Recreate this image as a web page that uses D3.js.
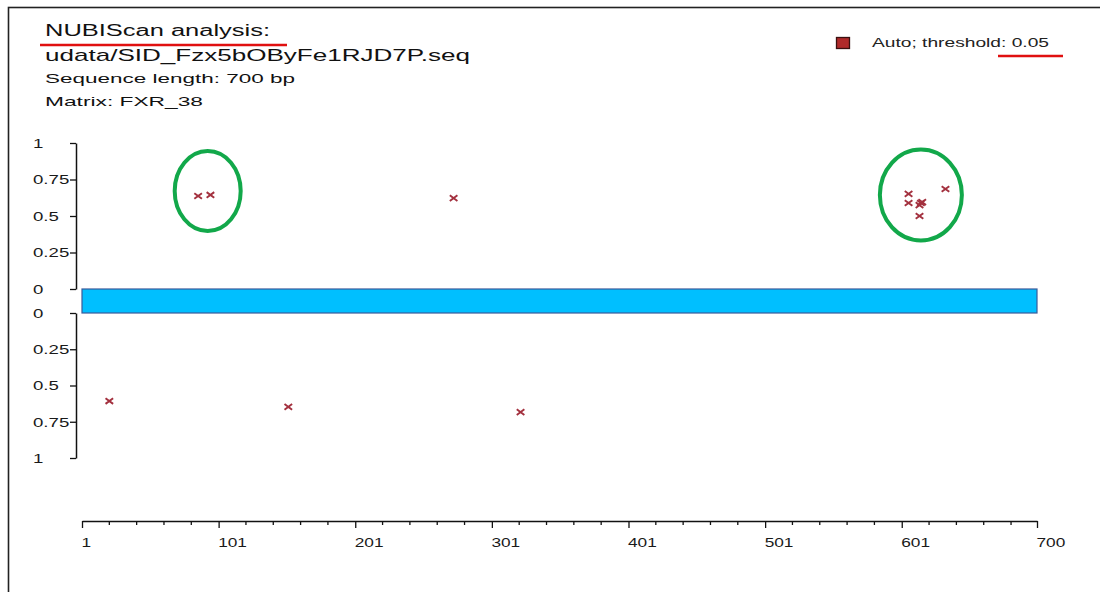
<!DOCTYPE html>
<html>
<head>
<meta charset="utf-8">
<script src="https://cdn.jsdelivr.net/npm/d3@7"></script>
<style>
  body { margin: 0; background: #fff; }
  svg { display: block; font-family: "Liberation Sans", Arial, sans-serif; }
</style>
</head>
<body>
<div id="chart"></div>
<script>
// sequence + matrix info
const seqLength = 700;
const headerLines = ["NUBIScan analysis:", "udata/SID_Fzx5bOByFe1RJD7P.seq", "Sequence length: 700 bp", "Matrix:  FXR_38"];
const legendLabel = "Auto; threshold: 0.05";

// hits on upper (+) strand
const topPos   = [86, 95, 273, 606, 606, 615, 614, 616, 614, 633];
const topScore = [0.637, 0.644, 0.623, 0.651, 0.589, 0.589, 0.575, 0.595, 0.50, 0.685];
// hits on lower (-) strand
const botPos   = [21, 152, 322];
const botScore = [0.607, 0.648, 0.683];

// axis ticks
const scoreTicks = [0, 0.25, 0.5, 0.75, 1];
const posMajor = [1, 101, 201, 301, 401, 501, 601, 700];
const posMinor = [21, 41, 61, 81, 121, 141, 161, 181, 221, 241, 261, 281, 321, 341, 361, 381,
                  421, 441, 461, 481, 521, 541, 561, 581, 621, 641, 661, 681];

// highlighted groups (green rings) in data units
const ringPos = [93, 615];
const ringScore = [0.671, 0.644];

const W = 1100, H = 592;
const svg = d3.select("#chart").append("svg").attr("width", W).attr("height", H);

// frame
svg.append("rect")
  .attr("x", 8.5).attr("y", 7.5).attr("width", 1200).attr("height", 700)
  .attr("fill", "none").attr("stroke", "#222").attr("stroke-width", 1.6);

const xScale = d3.scaleLinear().domain([1, seqLength]).range([82, 1037]);
const yTop = d3.scaleLinear().domain([0, 1]).range([289, 143]);
const yBot = d3.scaleLinear().domain([0, 1]).range([313, 458]);

const fmt = d => d === 0 ? "0" : d === 1 ? "1" : String(d);
const stretch = 1.38;

function yAxis(scale) {
  const g = svg.append("g")
    .attr("transform", "translate(76,0)")
    .call(d3.axisLeft(scale).tickValues(scoreTicks).tickFormat(fmt).tickSize(6).tickSizeOuter(0));
  g.select(".domain").attr("stroke", "#111").attr("stroke-width", 1.5);
  g.selectAll(".tick line").attr("stroke", "#111").attr("stroke-width", 1.3);
  g.selectAll(".tick text")
    .attr("text-anchor", "start")
    .attr("x", -43)
    .attr("transform", `translate(-43,0) scale(${stretch},1) translate(43,0)`)
    .attr("fill", "#1a1a1a")
    .style("font-size", "13.5px");
  return g;
}
yAxis(yTop);
yAxis(yBot);

// x axis
const xg = svg.append("g").attr("transform", "translate(0,521)");
xg.call(d3.axisBottom(xScale).tickValues(posMajor).tickFormat(d3.format("d")).tickSize(7).tickSizeOuter(0));
xg.select(".domain").attr("stroke", "#111").attr("stroke-width", 1.5);
xg.selectAll(".tick line").attr("stroke", "#111").attr("stroke-width", 1.3);
xg.selectAll(".tick text")
  .attr("text-anchor", "start")
  .attr("x", -1)
  .attr("y", 16)
  .attr("transform", `translate(-1,0) scale(${stretch - 0.1},1) translate(1,0)`)
  .attr("fill", "#1a1a1a")
  .style("font-size", "13.5px");
xg.selectAll(".minor")
  .data(posMinor)
  .join("line")
  .attr("class", "minor")
  .attr("x1", d => xScale(d)).attr("x2", d => xScale(d))
  .attr("y1", 0).attr("y2", 4)
  .attr("stroke", "#111").attr("stroke-width", 1.3);

// sequence bar
svg.append("rect")
  .attr("x", xScale(1))
  .attr("y", yTop(0))
  .attr("width", xScale(seqLength) - xScale(1))
  .attr("height", yBot(0) - yTop(0))
  .attr("fill", "#00bfff")
  .attr("stroke", "#3a5a9a")
  .attr("stroke-width", 1.2);

// hit markers
function crosses(pos, score, yScale) {
  const s = 3.8;
  const g = svg.append("g").attr("stroke", "#a3303e").attr("stroke-width", 1.9);
  pos.forEach((p, i) => {
    const cx = xScale(p), cy = yScale(score[i]);
    g.append("path").attr("d", `M${cx - s},${cy - s * 0.75}L${cx + s},${cy + s * 0.75}M${cx - s},${cy + s * 0.75}L${cx + s},${cy - s * 0.75}`);
  });
}
crosses(topPos, topScore, yTop);
crosses(botPos, botScore, yBot);

// header text (source rendering is wide, so fit to measured widths)
const headerStyle = [
  {x: 45, y: 36, size: 16, len: 225},
  {x: 45, y: 61, size: 17, len: 425},
  {x: 45, y: 83, size: 13.5, len: 250},
  {x: 45, y: 106, size: 13.5, len: 158}
];
headerLines.forEach((t, i) => {
  const st = headerStyle[i];
  svg.append("text")
    .attr("x", st.x).attr("y", st.y)
    .attr("textLength", st.len)
    .attr("lengthAdjust", "spacingAndGlyphs")
    .style("font-size", st.size + "px")
    .attr("fill", "#111")
    .text(t);
});

// legend
svg.append("rect")
  .attr("x", 836.5).attr("y", 37.5).attr("width", 13).attr("height", 11)
  .attr("fill", "#b02a2a").attr("stroke", "#3a1010").attr("stroke-width", 1.3);
svg.append("text")
  .attr("x", 872).attr("y", 47)
  .attr("textLength", 177)
  .attr("lengthAdjust", "spacingAndGlyphs")
  .style("font-size", "12.5px")
  .attr("fill", "#222")
  .text(legendLabel);

// annotations: red underlines and green rings
svg.append("line").attr("x1", 40).attr("x2", 287).attr("y1", 45).attr("y2", 45)
  .attr("stroke", "#e01010").attr("stroke-width", 2.5);
svg.append("line").attr("x1", 998).attr("x2", 1063).attr("y1", 56).attr("y2", 56)
  .attr("stroke", "#e01010").attr("stroke-width", 2.5);

const ringR = [[33, 40], [41, 45.5]];
ringPos.forEach((p, i) => {
  svg.append("ellipse")
    .attr("cx", xScale(p)).attr("cy", yTop(ringScore[i]))
    .attr("rx", ringR[i][0]).attr("ry", ringR[i][1])
    .attr("fill", "none").attr("stroke", "#12a84a").attr("stroke-width", 4);
});
</script>
</body>
</html>
